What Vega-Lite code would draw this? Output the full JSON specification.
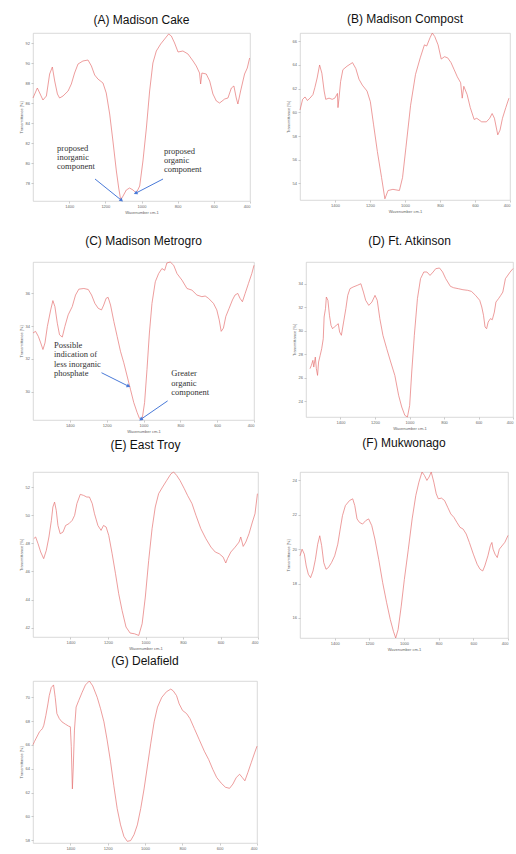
{
"$schema": "https://vega.github.io/schema/vega-lite/v6.json",
"background": "white",
"padding": {"left": 18, "top": 12, "right": 0, "bottom": 0},
"datasets": {
"A": [{"wavenumber":1600,"transmittance":86.5},{"wavenumber":1576,"transmittance":87.5},{"wavenumber":1563,"transmittance":87.0},{"wavenumber":1545,"transmittance":86.3},{"wavenumber":1526,"transmittance":86.7},{"wavenumber":1508,"transmittance":88.9},{"wavenumber":1493,"transmittance":89.6},{"wavenumber":1480,"transmittance":88.2},{"wavenumber":1465,"transmittance":86.9},{"wavenumber":1453,"transmittance":86.5},{"wavenumber":1434,"transmittance":86.7},{"wavenumber":1406,"transmittance":87.2},{"wavenumber":1388,"transmittance":87.9},{"wavenumber":1370,"transmittance":89.0},{"wavenumber":1351,"transmittance":89.9},{"wavenumber":1324,"transmittance":90.2},{"wavenumber":1296,"transmittance":90.3},{"wavenumber":1277,"transmittance":89.7},{"wavenumber":1259,"transmittance":88.8},{"wavenumber":1241,"transmittance":88.4},{"wavenumber":1213,"transmittance":88.0},{"wavenumber":1195,"transmittance":87.0},{"wavenumber":1176,"transmittance":84.9},{"wavenumber":1158,"transmittance":82.2},{"wavenumber":1139,"transmittance":79.2},{"wavenumber":1126,"transmittance":77.5},{"wavenumber":1115,"transmittance":76.3},{"wavenumber":1102,"transmittance":76.7},{"wavenumber":1084,"transmittance":77.3},{"wavenumber":1066,"transmittance":77.5},{"wavenumber":1047,"transmittance":77.3},{"wavenumber":1029,"transmittance":77.0},{"wavenumber":1010,"transmittance":77.7},{"wavenumber":992,"transmittance":80.2},{"wavenumber":973,"transmittance":83.5},{"wavenumber":955,"transmittance":87.2},{"wavenumber":937,"transmittance":90.0},{"wavenumber":918,"transmittance":91.2},{"wavenumber":894,"transmittance":91.9},{"wavenumber":872,"transmittance":92.4},{"wavenumber":850,"transmittance":92.9},{"wavenumber":835,"transmittance":92.7},{"wavenumber":817,"transmittance":92.0},{"wavenumber":798,"transmittance":91.1},{"wavenumber":771,"transmittance":91.2},{"wavenumber":743,"transmittance":90.9},{"wavenumber":715,"transmittance":90.2},{"wavenumber":697,"transmittance":89.7},{"wavenumber":679,"transmittance":89.0},{"wavenumber":673,"transmittance":87.9},{"wavenumber":666,"transmittance":89.0},{"wavenumber":642,"transmittance":88.9},{"wavenumber":623,"transmittance":88.2},{"wavenumber":605,"transmittance":86.9},{"wavenumber":586,"transmittance":86.2},{"wavenumber":568,"transmittance":86.0},{"wavenumber":540,"transmittance":86.4},{"wavenumber":522,"transmittance":86.5},{"wavenumber":503,"transmittance":87.5},{"wavenumber":489,"transmittance":87.7},{"wavenumber":476,"transmittance":86.5},{"wavenumber":467,"transmittance":85.9},{"wavenumber":452,"transmittance":87.2},{"wavenumber":430,"transmittance":88.9},{"wavenumber":415,"transmittance":89.5},{"wavenumber":402,"transmittance":90.5}],
"notesA": [{"wavenumber":1467,"transmittance":81.5,"label":"proposed"},{"wavenumber":1467,"transmittance":80.6,"label":"inorganic"},{"wavenumber":1467,"transmittance":79.7,"label":"component"},{"wavenumber":876,"transmittance":81.2,"label":"proposed"},{"wavenumber":876,"transmittance":80.3,"label":"organic"},{"wavenumber":876,"transmittance":79.4,"label":"component"}],
"arrowsA": [{"id":"a1","wavenumber":1113,"transmittance":76.3,"wavenumber2":1257,"transmittance2":78.4},{"id":"a2","wavenumber":1030,"transmittance":77.0,"wavenumber2":881,"transmittance2":78.4}],
"B": [{"wavenumber":1600,"transmittance":60.2},{"wavenumber":1585,"transmittance":61.1},{"wavenumber":1571,"transmittance":61.3},{"wavenumber":1558,"transmittance":61.0},{"wavenumber":1543,"transmittance":61.2},{"wavenumber":1526,"transmittance":61.5},{"wavenumber":1515,"transmittance":62.1},{"wavenumber":1502,"transmittance":62.9},{"wavenumber":1488,"transmittance":64.0},{"wavenumber":1475,"transmittance":63.3},{"wavenumber":1462,"transmittance":61.8},{"wavenumber":1453,"transmittance":61.1},{"wavenumber":1434,"transmittance":61.2},{"wavenumber":1416,"transmittance":61.1},{"wavenumber":1401,"transmittance":61.2},{"wavenumber":1386,"transmittance":61.6},{"wavenumber":1383,"transmittance":60.4},{"wavenumber":1377,"transmittance":61.2},{"wavenumber":1368,"transmittance":62.6},{"wavenumber":1355,"transmittance":63.6},{"wavenumber":1331,"transmittance":63.9},{"wavenumber":1300,"transmittance":64.2},{"wavenumber":1281,"transmittance":63.7},{"wavenumber":1263,"transmittance":62.8},{"wavenumber":1244,"transmittance":62.3},{"wavenumber":1217,"transmittance":61.8},{"wavenumber":1198,"transmittance":60.9},{"wavenumber":1180,"transmittance":59.0},{"wavenumber":1158,"transmittance":56.7},{"wavenumber":1134,"transmittance":54.5},{"wavenumber":1115,"transmittance":52.7},{"wavenumber":1097,"transmittance":53.4},{"wavenumber":1069,"transmittance":53.5},{"wavenumber":1032,"transmittance":53.4},{"wavenumber":1014,"transmittance":54.5},{"wavenumber":995,"transmittance":57.0},{"wavenumber":968,"transmittance":60.6},{"wavenumber":940,"transmittance":63.2},{"wavenumber":913,"transmittance":64.6},{"wavenumber":889,"transmittance":65.7},{"wavenumber":876,"transmittance":65.6},{"wavenumber":857,"transmittance":66.3},{"wavenumber":844,"transmittance":66.7},{"wavenumber":830,"transmittance":66.4},{"wavenumber":811,"transmittance":65.7},{"wavenumber":793,"transmittance":64.5},{"wavenumber":774,"transmittance":64.7},{"wavenumber":756,"transmittance":64.6},{"wavenumber":737,"transmittance":64.2},{"wavenumber":719,"transmittance":63.6},{"wavenumber":701,"transmittance":63.0},{"wavenumber":682,"transmittance":62.5},{"wavenumber":673,"transmittance":61.2},{"wavenumber":664,"transmittance":62.2},{"wavenumber":645,"transmittance":61.5},{"wavenumber":627,"transmittance":60.4},{"wavenumber":605,"transmittance":59.4},{"wavenumber":590,"transmittance":59.5},{"wavenumber":562,"transmittance":59.2},{"wavenumber":535,"transmittance":59.2},{"wavenumber":516,"transmittance":59.5},{"wavenumber":502,"transmittance":59.9},{"wavenumber":489,"transmittance":59.5},{"wavenumber":470,"transmittance":58.1},{"wavenumber":457,"transmittance":58.5},{"wavenumber":443,"transmittance":59.5},{"wavenumber":424,"transmittance":60.4},{"wavenumber":406,"transmittance":61.2}],
"C": [{"wavenumber":1600,"transmittance":33.58},{"wavenumber":1586,"transmittance":33.68},{"wavenumber":1571,"transmittance":33.37},{"wavenumber":1558,"transmittance":32.97},{"wavenumber":1546,"transmittance":32.57},{"wavenumber":1535,"transmittance":32.97},{"wavenumber":1522,"transmittance":33.98},{"wavenumber":1504,"transmittance":34.99},{"wavenumber":1492,"transmittance":35.56},{"wavenumber":1481,"transmittance":35.19},{"wavenumber":1468,"transmittance":34.18},{"wavenumber":1456,"transmittance":33.47},{"wavenumber":1441,"transmittance":33.33},{"wavenumber":1427,"transmittance":33.98},{"wavenumber":1409,"transmittance":34.69},{"wavenumber":1387,"transmittance":35.19},{"wavenumber":1369,"transmittance":35.9},{"wavenumber":1351,"transmittance":36.26},{"wavenumber":1324,"transmittance":36.3},{"wavenumber":1300,"transmittance":36.24},{"wavenumber":1282,"transmittance":35.9},{"wavenumber":1264,"transmittance":35.39},{"wavenumber":1246,"transmittance":35.09},{"wavenumber":1228,"transmittance":34.99},{"wavenumber":1216,"transmittance":35.29},{"wavenumber":1203,"transmittance":35.7},{"wavenumber":1192,"transmittance":35.76},{"wavenumber":1179,"transmittance":35.29},{"wavenumber":1161,"transmittance":34.28},{"wavenumber":1143,"transmittance":33.37},{"wavenumber":1125,"transmittance":32.46},{"wavenumber":1107,"transmittance":31.76},{"wavenumber":1089,"transmittance":30.95},{"wavenumber":1071,"transmittance":30.14},{"wavenumber":1053,"transmittance":29.33},{"wavenumber":1035,"transmittance":28.73},{"wavenumber":1022,"transmittance":28.36},{"wavenumber":1008,"transmittance":28.26},{"wavenumber":994,"transmittance":29.33},{"wavenumber":981,"transmittance":31.35},{"wavenumber":968,"transmittance":33.58},{"wavenumber":954,"transmittance":35.39},{"wavenumber":936,"transmittance":36.71},{"wavenumber":918,"transmittance":37.21},{"wavenumber":900,"transmittance":37.52},{"wavenumber":885,"transmittance":37.41},{"wavenumber":873,"transmittance":37.86},{"wavenumber":855,"transmittance":37.92},{"wavenumber":836,"transmittance":37.72},{"wavenumber":818,"transmittance":37.21},{"wavenumber":791,"transmittance":36.81},{"wavenumber":764,"transmittance":36.3},{"wavenumber":737,"transmittance":36.2},{"wavenumber":710,"transmittance":35.9},{"wavenumber":683,"transmittance":35.8},{"wavenumber":665,"transmittance":35.84},{"wavenumber":647,"transmittance":35.7},{"wavenumber":620,"transmittance":35.39},{"wavenumber":602,"transmittance":34.99},{"wavenumber":589,"transmittance":34.38},{"wavenumber":578,"transmittance":33.68},{"wavenumber":566,"transmittance":33.88},{"wavenumber":553,"transmittance":34.59},{"wavenumber":535,"transmittance":35.09},{"wavenumber":517,"transmittance":35.6},{"wavenumber":503,"transmittance":35.9},{"wavenumber":488,"transmittance":36.0},{"wavenumber":476,"transmittance":35.7},{"wavenumber":463,"transmittance":35.49},{"wavenumber":448,"transmittance":36.0},{"wavenumber":430,"transmittance":36.61},{"wavenumber":412,"transmittance":37.21},{"wavenumber":400,"transmittance":37.72}],
"notesC": [{"wavenumber":1486,"transmittance":32.87,"label":"Possible"},{"wavenumber":1486,"transmittance":32.29,"label":"indication of"},{"wavenumber":1486,"transmittance":31.7,"label":"less inorganic"},{"wavenumber":1486,"transmittance":31.11,"label":"phosphate"},{"wavenumber":849,"transmittance":31.15,"label":"Greater"},{"wavenumber":849,"transmittance":30.55,"label":"organic"},{"wavenumber":849,"transmittance":29.95,"label":"component"}],
"arrowsC": [{"id":"c1","wavenumber":1084,"transmittance":30.34,"wavenumber2":1228,"transmittance2":31.15},{"id":"c2","wavenumber":1012,"transmittance":28.32,"wavenumber2":869,"transmittance2":29.43}],
"D": [{"wavenumber":1577,"transmittance":26.78},{"wavenumber":1569,"transmittance":27.06},{"wavenumber":1560,"transmittance":27.49},{"wavenumber":1555,"transmittance":26.92},{"wavenumber":1546,"transmittance":27.77},{"wavenumber":1540,"transmittance":26.78},{"wavenumber":1533,"transmittance":26.21},{"wavenumber":1527,"transmittance":27.35},{"wavenumber":1518,"transmittance":27.91},{"wavenumber":1509,"transmittance":28.48},{"wavenumber":1500,"transmittance":29.33},{"wavenumber":1495,"transmittance":31.18},{"wavenumber":1487,"transmittance":31.89},{"wavenumber":1482,"transmittance":32.88},{"wavenumber":1473,"transmittance":32.6},{"wavenumber":1464,"transmittance":31.32},{"wavenumber":1455,"transmittance":30.47},{"wavenumber":1446,"transmittance":30.18},{"wavenumber":1436,"transmittance":30.33},{"wavenumber":1424,"transmittance":30.47},{"wavenumber":1413,"transmittance":30.61},{"wavenumber":1405,"transmittance":29.9},{"wavenumber":1395,"transmittance":29.62},{"wavenumber":1382,"transmittance":30.75},{"wavenumber":1369,"transmittance":31.89},{"wavenumber":1358,"transmittance":33.02},{"wavenumber":1345,"transmittance":33.59},{"wavenumber":1327,"transmittance":33.73},{"wavenumber":1303,"transmittance":33.87},{"wavenumber":1282,"transmittance":34.01},{"wavenumber":1267,"transmittance":33.3},{"wavenumber":1254,"transmittance":32.6},{"wavenumber":1236,"transmittance":32.17},{"wavenumber":1218,"transmittance":32.45},{"wavenumber":1200,"transmittance":33.02},{"wavenumber":1187,"transmittance":32.6},{"wavenumber":1172,"transmittance":31.04},{"wavenumber":1154,"transmittance":29.62},{"wavenumber":1132,"transmittance":28.48},{"wavenumber":1109,"transmittance":27.35},{"wavenumber":1085,"transmittance":26.21},{"wavenumber":1063,"transmittance":24.51},{"wavenumber":1045,"transmittance":23.52},{"wavenumber":1027,"transmittance":22.81},{"wavenumber":1012,"transmittance":22.67},{"wavenumber":999,"transmittance":23.66},{"wavenumber":987,"transmittance":26.5},{"wavenumber":972,"transmittance":29.62},{"wavenumber":954,"transmittance":32.74},{"wavenumber":936,"transmittance":34.44},{"wavenumber":917,"transmittance":35.01},{"wavenumber":899,"transmittance":35.01},{"wavenumber":881,"transmittance":34.72},{"wavenumber":863,"transmittance":35.01},{"wavenumber":848,"transmittance":35.29},{"wavenumber":826,"transmittance":35.35},{"wavenumber":808,"transmittance":35.01},{"wavenumber":790,"transmittance":34.44},{"wavenumber":763,"transmittance":33.79},{"wavenumber":744,"transmittance":33.67},{"wavenumber":717,"transmittance":33.59},{"wavenumber":690,"transmittance":33.5},{"wavenumber":663,"transmittance":33.45},{"wavenumber":641,"transmittance":33.36},{"wavenumber":617,"transmittance":33.02},{"wavenumber":593,"transmittance":32.6},{"wavenumber":581,"transmittance":32.03},{"wavenumber":571,"transmittance":31.32},{"wavenumber":562,"transmittance":30.33},{"wavenumber":553,"transmittance":30.18},{"wavenumber":544,"transmittance":30.75},{"wavenumber":531,"transmittance":31.04},{"wavenumber":520,"transmittance":30.95},{"wavenumber":508,"transmittance":31.6},{"wavenumber":499,"transmittance":32.45},{"wavenumber":484,"transmittance":32.74},{"wavenumber":471,"transmittance":33.02},{"wavenumber":459,"transmittance":33.3},{"wavenumber":444,"transmittance":34.44},{"wavenumber":417,"transmittance":35.0},{"wavenumber":400,"transmittance":35.3}],
"E": [{"wavenumber":1596,"transmittance":48.33},{"wavenumber":1586,"transmittance":48.45},{"wavenumber":1573,"transmittance":47.97},{"wavenumber":1559,"transmittance":47.38},{"wavenumber":1543,"transmittance":46.91},{"wavenumber":1529,"transmittance":47.5},{"wavenumber":1515,"transmittance":48.45},{"wavenumber":1502,"transmittance":49.63},{"wavenumber":1494,"transmittance":50.58},{"wavenumber":1485,"transmittance":50.93},{"wavenumber":1476,"transmittance":50.34},{"wavenumber":1467,"transmittance":49.27},{"wavenumber":1455,"transmittance":48.68},{"wavenumber":1440,"transmittance":48.8},{"wavenumber":1426,"transmittance":49.27},{"wavenumber":1409,"transmittance":49.39},{"wavenumber":1391,"transmittance":49.63},{"wavenumber":1378,"transmittance":49.99},{"wavenumber":1366,"transmittance":50.82},{"wavenumber":1348,"transmittance":51.48},{"wavenumber":1331,"transmittance":51.41},{"wavenumber":1313,"transmittance":51.29},{"wavenumber":1299,"transmittance":51.29},{"wavenumber":1284,"transmittance":50.82},{"wavenumber":1272,"transmittance":50.1},{"wavenumber":1254,"transmittance":49.27},{"wavenumber":1237,"transmittance":48.92},{"wavenumber":1224,"transmittance":49.27},{"wavenumber":1210,"transmittance":49.16},{"wavenumber":1196,"transmittance":48.56},{"wavenumber":1178,"transmittance":47.26},{"wavenumber":1160,"transmittance":45.84},{"wavenumber":1143,"transmittance":44.42},{"wavenumber":1125,"transmittance":43.23},{"wavenumber":1104,"transmittance":42.05},{"wavenumber":1082,"transmittance":41.62},{"wavenumber":1059,"transmittance":41.57},{"wavenumber":1036,"transmittance":41.45},{"wavenumber":1018,"transmittance":42.28},{"wavenumber":1001,"transmittance":44.18},{"wavenumber":983,"transmittance":46.79},{"wavenumber":965,"transmittance":49.04},{"wavenumber":948,"transmittance":50.58},{"wavenumber":930,"transmittance":51.53},{"wavenumber":909,"transmittance":52.0},{"wavenumber":887,"transmittance":52.47},{"wavenumber":864,"transmittance":52.95},{"wavenumber":850,"transmittance":53.07},{"wavenumber":834,"transmittance":52.83},{"wavenumber":816,"transmittance":52.47},{"wavenumber":793,"transmittance":51.88},{"wavenumber":776,"transmittance":51.41},{"wavenumber":752,"transmittance":50.82},{"wavenumber":731,"transmittance":49.99},{"wavenumber":705,"transmittance":49.04},{"wavenumber":678,"transmittance":48.33},{"wavenumber":651,"transmittance":47.73},{"wavenumber":628,"transmittance":47.38},{"wavenumber":607,"transmittance":47.26},{"wavenumber":586,"transmittance":47.02},{"wavenumber":572,"transmittance":46.6},{"wavenumber":563,"transmittance":46.91},{"wavenumber":545,"transmittance":47.38},{"wavenumber":522,"transmittance":47.73},{"wavenumber":501,"transmittance":48.09},{"wavenumber":492,"transmittance":48.45},{"wavenumber":479,"transmittance":47.78},{"wavenumber":465,"transmittance":48.09},{"wavenumber":448,"transmittance":48.68},{"wavenumber":430,"transmittance":49.51},{"wavenumber":416,"transmittance":50.1},{"wavenumber":403,"transmittance":51.53}],
"F": [{"wavenumber":1600,"transmittance":19.61},{"wavenumber":1588,"transmittance":20.0},{"wavenumber":1575,"transmittance":19.71},{"wavenumber":1564,"transmittance":19.02},{"wavenumber":1552,"transmittance":18.54},{"wavenumber":1539,"transmittance":18.34},{"wavenumber":1525,"transmittance":18.73},{"wavenumber":1511,"transmittance":19.41},{"wavenumber":1498,"transmittance":20.29},{"wavenumber":1486,"transmittance":20.78},{"wavenumber":1475,"transmittance":20.2},{"wavenumber":1463,"transmittance":19.22},{"wavenumber":1450,"transmittance":18.83},{"wavenumber":1436,"transmittance":18.93},{"wavenumber":1418,"transmittance":19.22},{"wavenumber":1400,"transmittance":19.61},{"wavenumber":1382,"transmittance":20.29},{"wavenumber":1368,"transmittance":21.17},{"wavenumber":1355,"transmittance":21.95},{"wavenumber":1338,"transmittance":22.54},{"wavenumber":1314,"transmittance":22.83},{"wavenumber":1296,"transmittance":22.93},{"wavenumber":1284,"transmittance":22.54},{"wavenumber":1271,"transmittance":21.76},{"wavenumber":1257,"transmittance":21.56},{"wavenumber":1239,"transmittance":21.46},{"wavenumber":1221,"transmittance":21.66},{"wavenumber":1204,"transmittance":21.76},{"wavenumber":1186,"transmittance":21.37},{"wavenumber":1168,"transmittance":20.59},{"wavenumber":1146,"transmittance":19.41},{"wavenumber":1123,"transmittance":18.05},{"wavenumber":1100,"transmittance":16.88},{"wavenumber":1079,"transmittance":15.9},{"wavenumber":1061,"transmittance":15.22},{"wavenumber":1048,"transmittance":14.83},{"wavenumber":1034,"transmittance":15.32},{"wavenumber":1016,"transmittance":16.68},{"wavenumber":998,"transmittance":18.24},{"wavenumber":975,"transmittance":20.0},{"wavenumber":953,"transmittance":21.76},{"wavenumber":932,"transmittance":23.12},{"wavenumber":914,"transmittance":23.9},{"wavenumber":896,"transmittance":24.49},{"wavenumber":882,"transmittance":24.29},{"wavenumber":868,"transmittance":24.0},{"wavenumber":855,"transmittance":24.2},{"wavenumber":843,"transmittance":24.49},{"wavenumber":828,"transmittance":23.9},{"wavenumber":814,"transmittance":23.22},{"wavenumber":802,"transmittance":22.93},{"wavenumber":784,"transmittance":22.97},{"wavenumber":766,"transmittance":22.83},{"wavenumber":748,"transmittance":22.44},{"wavenumber":730,"transmittance":22.05},{"wavenumber":712,"transmittance":21.85},{"wavenumber":695,"transmittance":21.56},{"wavenumber":677,"transmittance":21.27},{"wavenumber":659,"transmittance":21.17},{"wavenumber":641,"transmittance":20.88},{"wavenumber":623,"transmittance":20.39},{"wavenumber":600,"transmittance":19.71},{"wavenumber":578,"transmittance":19.12},{"wavenumber":561,"transmittance":18.83},{"wavenumber":546,"transmittance":18.73},{"wavenumber":534,"transmittance":19.02},{"wavenumber":516,"transmittance":19.61},{"wavenumber":502,"transmittance":20.2},{"wavenumber":493,"transmittance":20.39},{"wavenumber":486,"transmittance":20.0},{"wavenumber":475,"transmittance":19.71},{"wavenumber":462,"transmittance":19.51},{"wavenumber":450,"transmittance":20.0},{"wavenumber":418,"transmittance":20.4},{"wavenumber":400,"transmittance":20.8}],
"G": [{"wavenumber":1600,"transmittance":66.02},{"wavenumber":1592,"transmittance":66.29},{"wavenumber":1583,"transmittance":66.57},{"wavenumber":1574,"transmittance":66.84},{"wavenumber":1565,"transmittance":67.12},{"wavenumber":1556,"transmittance":67.25},{"wavenumber":1549,"transmittance":67.39},{"wavenumber":1542,"transmittance":67.66},{"wavenumber":1531,"transmittance":68.49},{"wavenumber":1520,"transmittance":69.45},{"wavenumber":1513,"transmittance":70.14},{"wavenumber":1502,"transmittance":70.82},{"wavenumber":1490,"transmittance":71.04},{"wavenumber":1481,"transmittance":70.0},{"wavenumber":1472,"transmittance":68.63},{"wavenumber":1459,"transmittance":68.21},{"wavenumber":1445,"transmittance":67.94},{"wavenumber":1427,"transmittance":67.75},{"wavenumber":1409,"transmittance":67.58},{"wavenumber":1400,"transmittance":67.53},{"wavenumber":1395,"transmittance":65.88},{"wavenumber":1389,"transmittance":62.31},{"wavenumber":1384,"transmittance":64.23},{"wavenumber":1378,"transmittance":67.25},{"wavenumber":1369,"transmittance":69.18},{"wavenumber":1355,"transmittance":69.73},{"wavenumber":1337,"transmittance":70.41},{"wavenumber":1319,"transmittance":71.04},{"wavenumber":1298,"transmittance":71.37},{"wavenumber":1280,"transmittance":70.96},{"wavenumber":1256,"transmittance":70.0},{"wavenumber":1238,"transmittance":69.04},{"wavenumber":1220,"transmittance":67.94},{"wavenumber":1203,"transmittance":66.43},{"wavenumber":1185,"transmittance":64.64},{"wavenumber":1167,"transmittance":62.58},{"wavenumber":1149,"transmittance":60.66},{"wavenumber":1131,"transmittance":59.29},{"wavenumber":1113,"transmittance":58.32},{"wavenumber":1095,"transmittance":57.91},{"wavenumber":1077,"transmittance":57.97},{"wavenumber":1059,"transmittance":58.46},{"wavenumber":1041,"transmittance":59.29},{"wavenumber":1023,"transmittance":60.66},{"wavenumber":1005,"transmittance":62.31},{"wavenumber":987,"transmittance":64.23},{"wavenumber":969,"transmittance":66.15},{"wavenumber":951,"transmittance":67.94},{"wavenumber":933,"transmittance":69.18},{"wavenumber":910,"transmittance":70.0},{"wavenumber":885,"transmittance":70.47},{"wavenumber":862,"transmittance":70.69},{"wavenumber":849,"transmittance":70.55},{"wavenumber":831,"transmittance":70.14},{"wavenumber":817,"transmittance":69.45},{"wavenumber":799,"transmittance":68.9},{"wavenumber":777,"transmittance":68.63},{"wavenumber":759,"transmittance":68.21},{"wavenumber":736,"transmittance":67.39},{"wavenumber":709,"transmittance":66.43},{"wavenumber":682,"transmittance":65.47},{"wavenumber":659,"transmittance":64.78},{"wavenumber":637,"transmittance":63.96},{"wavenumber":616,"transmittance":63.27},{"wavenumber":592,"transmittance":62.8},{"wavenumber":569,"transmittance":62.45},{"wavenumber":547,"transmittance":62.36},{"wavenumber":529,"transmittance":62.72},{"wavenumber":511,"transmittance":63.27},{"wavenumber":493,"transmittance":63.54},{"wavenumber":479,"transmittance":63.27},{"wavenumber":465,"transmittance":62.99},{"wavenumber":449,"transmittance":63.68},{"wavenumber":431,"transmittance":64.51},{"wavenumber":413,"transmittance":65.33},{"wavenumber":400,"transmittance":65.9}]
},
"spacing": 19,
"vconcat": [
{"hconcat": [
 {"title": {"text": "(A) Madison Cake", "offset": 6},
  "width": 217, "height": 168,
  "encoding": {
   "x": {"field": "wavenumber", "type": "quantitative", "title": "Wavenumber cm-1", "scale": {"domain": [400, 1600], "reverse": true, "nice": false, "zero": false}, "axis": {"values": [1400, 1200, 1000, 800, 600, 400], "format": "d"}},
   "y": {"field": "transmittance", "type": "quantitative", "title": "Transmittance [%]", "scale": {"domain": [76.2, 93], "nice": false, "zero": false}, "axis": {"values": [78, 80, 82, 84, 86, 88, 90, 92]}}
  },
  "layer": [
   {"data": {"name": "A"}, "mark": {"type": "line", "color": "#e57373", "strokeWidth": 0.7}},
   {"data": {"name": "notesA"}, "mark": {"type": "text", "align": "left", "baseline": "middle", "font": "Liberation Serif", "fontSize": 8.5, "color": "#333"}, "encoding": {"text": {"field": "label"}}},
   {"data": {"name": "arrowsA"}, "mark": {"type": "rule", "color": "#4a7ad8", "strokeWidth": 1}, "encoding": {"x2": {"field": "wavenumber2"}, "y2": {"field": "transmittance2"}}},
   {"data": {"name": "arrowsA"}, "transform": [{"filter": "datum.id === 'a1'"}], "mark": {"type": "point", "shape": "triangle", "angle": 130, "filled": true, "size": 18, "color": "#4a7ad8", "opacity": 1}},
   {"data": {"name": "arrowsA"}, "transform": [{"filter": "datum.id === 'a2'"}], "mark": {"type": "point", "shape": "triangle", "angle": 243, "filled": true, "size": 18, "color": "#4a7ad8", "opacity": 1}}
  ]
 },
 {"title": {"text": "(B) Madison Compost", "offset": 6},
  "width": 210, "height": 167,
  "data": {"name": "B"},
  "mark": {"type": "line", "color": "#e57373", "strokeWidth": 0.7},
  "encoding": {
   "x": {"field": "wavenumber", "type": "quantitative", "title": "Wavenumber cm-1", "scale": {"domain": [400, 1600], "reverse": true, "nice": false, "zero": false}, "axis": {"values": [1400, 1200, 1000, 800, 600, 400], "format": "d"}},
   "y": {"field": "transmittance", "type": "quantitative", "title": "Transmittance [%]", "scale": {"domain": [52.6, 66.7], "nice": false, "zero": false}, "axis": {"values": [54, 56, 58, 60, 62, 64, 66]}}
  }
 }
], "spacing": 33},
{"spacing": 2, "vconcat": [
 {"hconcat": [
  {"title": {"text": "(C) Madison Metrogro", "offset": 13},
   "width": 221, "height": 158,
   "encoding": {
    "x": {"field": "wavenumber", "type": "quantitative", "title": "Wavenumber cm-1", "scale": {"domain": [400, 1600], "reverse": true, "nice": false, "zero": false}, "axis": {"values": [1400, 1200, 1000, 800, 600, 400], "format": "d"}},
    "y": {"field": "transmittance", "type": "quantitative", "title": "Transmittance [%]", "scale": {"domain": [28.26, 37.92], "nice": false, "zero": false}, "axis": {"values": [30, 32, 34, 36]}}
   },
   "layer": [
    {"data": {"name": "C"}, "mark": {"type": "line", "color": "#e57373", "strokeWidth": 0.7}},
    {"data": {"name": "notesC"}, "mark": {"type": "text", "align": "left", "baseline": "middle", "font": "Liberation Serif", "fontSize": 8.5, "color": "#333"}, "encoding": {"text": {"field": "label"}}},
    {"data": {"name": "arrowsC"}, "mark": {"type": "rule", "color": "#4a7ad8", "strokeWidth": 1}, "encoding": {"x2": {"field": "wavenumber2"}, "y2": {"field": "transmittance2"}}},
    {"data": {"name": "arrowsC"}, "transform": [{"filter": "datum.id === 'c1'"}], "mark": {"type": "point", "shape": "triangle", "angle": 117, "filled": true, "size": 18, "color": "#4a7ad8", "opacity": 1}},
    {"data": {"name": "arrowsC"}, "transform": [{"filter": "datum.id === 'c2'"}], "mark": {"type": "point", "shape": "triangle", "angle": 235, "filled": true, "size": 18, "color": "#4a7ad8", "opacity": 1}}
   ]
  },
  {"title": {"text": "(D) Ft. Atkinson", "offset": 14},
   "width": 207, "height": 155,
   "data": {"name": "D"},
   "mark": {"type": "line", "color": "#e57373", "strokeWidth": 0.7},
   "encoding": {
    "x": {"field": "wavenumber", "type": "quantitative", "title": "Wavenumber cm-1", "scale": {"domain": [400, 1600], "reverse": true, "nice": false, "zero": false}, "axis": {"values": [1400, 1200, 1000, 800, 600, 400], "format": "d"}},
    "y": {"field": "transmittance", "type": "quantitative", "title": "Transmittance [%]", "scale": {"domain": [22.67, 35.86], "nice": false, "zero": false}, "axis": {"values": [24, 26, 28, 30, 32, 34, 36]}}
   }
  }
 ], "spacing": 35},
 {"hconcat": [
  {"title": {"text": "(E) East Troy", "offset": 19},
   "width": 225, "height": 165,
   "data": {"name": "E"},
   "mark": {"type": "line", "color": "#e57373", "strokeWidth": 0.7},
   "encoding": {
    "x": {"field": "wavenumber", "type": "quantitative", "title": "Wavenumber cm-1", "scale": {"domain": [400, 1600], "reverse": true, "nice": false, "zero": false}, "axis": {"values": [1400, 1200, 1000, 800, 600, 400], "format": "d"}},
    "y": {"field": "transmittance", "type": "quantitative", "title": "Transmittance [%]", "scale": {"domain": [41.34, 53.07], "nice": false, "zero": false}, "axis": {"values": [42, 44, 46, 48, 50, 52]}}
   }
  },
  {"title": {"text": "(F) Mukwonago", "offset": 21},
   "width": 208, "height": 166,
   "data": {"name": "F"},
   "mark": {"type": "line", "color": "#e57373", "strokeWidth": 0.7},
   "encoding": {
    "x": {"field": "wavenumber", "type": "quantitative", "title": "Wavenumber cm-1", "scale": {"domain": [400, 1600], "reverse": true, "nice": false, "zero": false}, "axis": {"values": [1400, 1200, 1000, 800, 600, 400], "format": "d"}},
    "y": {"field": "transmittance", "type": "quantitative", "title": "Transmittance [%]", "scale": {"domain": [14.83, 24.49], "nice": false, "zero": false}, "axis": {"values": [16, 18, 20, 22, 24]}}
   }
  }
 ], "spacing": 25},
 {"title": {"text": "(G) Delafield", "offset": 12},
  "width": 224, "height": 162,
  "data": {"name": "G"},
  "mark": {"type": "line", "color": "#e57373", "strokeWidth": 0.7},
  "encoding": {
   "x": {"field": "wavenumber", "type": "quantitative", "title": null, "scale": {"domain": [400, 1600], "reverse": true, "nice": false, "zero": false}, "axis": {"values": [1400, 1200, 1000, 800, 600, 400], "format": "d"}},
   "y": {"field": "transmittance", "type": "quantitative", "title": "Transmittance [%]", "scale": {"domain": [57.77, 71.37], "nice": false, "zero": false}, "axis": {"values": [58, 60, 62, 64, 66, 68, 70]}}
  }
 }
]}
],
"config": {
 "view": {"stroke": "#cfcfcf", "strokeWidth": 0.8},
 "axis": {"labelFontSize": 4, "titleFontSize": 4, "labelColor": "#666", "titleColor": "#666", "tickSize": 2, "tickColor": "#aaa", "tickWidth": 0.6, "domain": false, "grid": false, "labelPadding": 1.5, "titlePadding": 2, "titleFontWeight": "normal", "labelFont": "Liberation Sans", "titleFont": "Liberation Sans"},
 "title": {"fontSize": 12, "font": "Liberation Sans", "fontWeight": "normal", "color": "#111"}
}
}
